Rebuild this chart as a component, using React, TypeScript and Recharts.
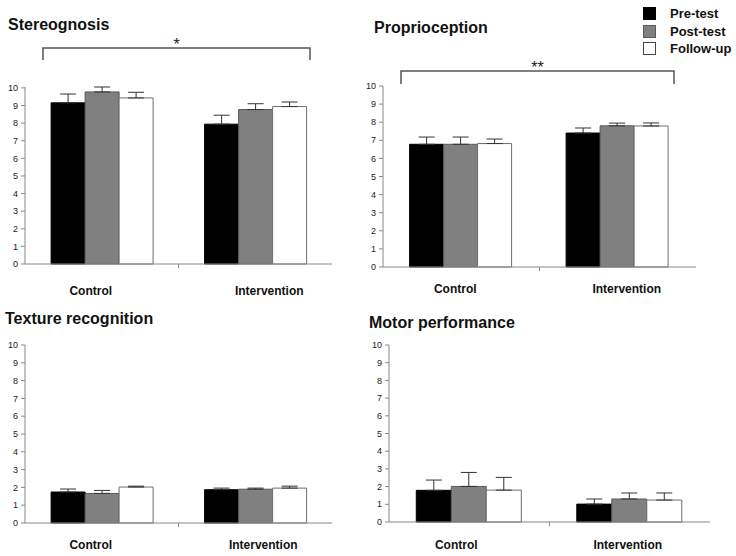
import { BarChart, Bar, XAxis, YAxis, ErrorBar } from "recharts";

const FONT = "Arial, 'Liberation Sans', Helvetica, sans-serif";

const categories = ["Control", "Intervention"];
const yTicks = [0, 1, 2, 3, 4, 5, 6, 7, 8, 9, 10];
const seriesNames = ["Pre-test", "Post-test", "Follow-up"];

// Stereognosis
const stereoPre = [9.15, 7.94];
const stereoPreErr = [0.5, 0.51];
const stereoPost = [9.77, 8.77];
const stereoPostErr = [0.28, 0.33];
const stereoFollow = [9.43, 8.94];
const stereoFollowErr = [0.32, 0.26];

// Proprioception
const proprioPre = [6.78, 7.4];
const proprioPreErr = [0.4, 0.28];
const proprioPost = [6.78, 7.8];
const proprioPostErr = [0.4, 0.15];
const proprioFollow = [6.82, 7.79];
const proprioFollowErr = [0.25, 0.17];

// Texture recognition
const texturePre = [1.74, 1.87];
const texturePreErr = [0.17, 0.09];
const texturePost = [1.66, 1.9];
const texturePostErr = [0.17, 0.06];
const textureFollow = [2.02, 1.96];
const textureFollowErr = [0.05, 0.11];

// Motor performance
const motorPre = [1.79, 1.01];
const motorPreErr = [0.58, 0.29];
const motorPost = [2.01, 1.3];
const motorPostErr = [0.79, 0.34];
const motorFollow = [1.8, 1.24];
const motorFollowErr = [0.72, 0.4];

function buildRows(
  pre: number[], preErr: number[],
  post: number[], postErr: number[],
  follow: number[], followErr: number[]
) {
  return categories.map((group, i) => ({
    group,
    pre: pre[i],
    preErr: [0, preErr[i]],
    post: post[i],
    postErr: [0, postErr[i]],
    follow: follow[i],
    followErr: [0, followErr[i]],
  }));
}

const barStyles = [
  { key: "pre", fill: "#000000", stroke: "#000000" },
  { key: "post", fill: "#808080", stroke: "#5a5a5a" },
  { key: "follow", fill: "#ffffff", stroke: "#6e6e6e" },
];

function CatTick(props: any) {
  const { x, y, payload, index, shift, dy } = props;
  const half = payload?.offset ?? 0;
  return (
    <g>
      {index === 0 && (
        <line x1={x + half} x2={x + half} y1={y} y2={y + 4} stroke="#888" />
      )}
      <text
        x={x + (shift?.[index] ?? 0)}
        y={y + dy}
        textAnchor="middle"
        fontFamily={FONT}
        fontWeight="bold"
        fontSize={12}
        fill="#111"
      >
        {payload.value}
      </text>
    </g>
  );
}

function LegendBox() {
  return (
    <div
      style={{
        position: "absolute",
        left: 643,
        top: 5,
        fontFamily: FONT,
        fontWeight: "bold",
        fontSize: 13,
        color: "#111",
      }}
    >
      {seriesNames.map((name, i) => (
        <div key={name} style={{ display: "flex", alignItems: "center", height: 17.5 }}>
          <span
            style={{
              display: "inline-block",
              width: 11,
              height: 11,
              background: barStyles[i].fill,
              border: `1px solid ${i === 2 ? "#444" : barStyles[i].stroke}`,
              marginRight: 14,
            }}
          />
          <span>{name}</span>
        </div>
      ))}
    </div>
  );
}

interface PanelProps {
  left: number;
  top: number;
  width: number;
  height: number;
  margin: { top: number; right: number; bottom: number; left: number };
  yWidth: number;
  rows: any[];
  title: string;
  titleX: number;
  titleY: number;
  labelShift: number[];
  labelDy: number;
  bracket?: { x1: number; x2: number; y: number; drop: number; mark: string; markY: number };
}

function Panel(p: PanelProps) {
  return (
    <div style={{ position: "absolute", left: p.left, top: p.top, width: p.width, height: p.height }}>
      <BarChart
        width={p.width}
        height={p.height}
        data={p.rows}
        margin={p.margin}
        barCategoryGap="17%"
        barGap={0}
      >
        <XAxis
          dataKey="group"
          stroke="#888"
          tickLine={false}
          tickSize={0}
          tickMargin={0}
          height={30}
          interval={0}
          tick={(t: any) => <CatTick {...t} shift={p.labelShift} dy={p.labelDy} />}
        />
        <YAxis
          domain={[0, 10]}
          ticks={yTicks}
          interval={0}
          width={p.yWidth}
          stroke="#888"
          tickSize={4}
          tickMargin={3}
          tick={{ fontSize: 9, fill: "#222", fontFamily: FONT }}
        />
        {barStyles.map((b) => (
          <Bar
            key={b.key}
            dataKey={b.key}
            fill={b.fill}
            stroke={b.stroke}
            strokeWidth={1}
            isAnimationActive={false}
          >
            <ErrorBar dataKey={b.key + "Err"} width={8} stroke="#333" strokeWidth={1} direction="y" />
          </Bar>
        ))}
      </BarChart>
      <svg
        width={p.width}
        height={p.height}
        style={{ position: "absolute", left: 0, top: 0, pointerEvents: "none" }}
      >
        <text x={p.titleX} y={p.titleY} fontFamily={FONT} fontWeight="bold" fontSize={16} fill="#111">
          {p.title}
        </text>
        {p.bracket && (
          <g>
            <path
              d={`M${p.bracket.x1},${p.bracket.y + p.bracket.drop} V${p.bracket.y} H${p.bracket.x2} V${p.bracket.y + p.bracket.drop}`}
              fill="none"
              stroke="#555"
              strokeWidth={1.5}
            />
            <text
              x={(p.bracket.x1 + p.bracket.x2) / 2}
              y={p.bracket.markY}
              textAnchor="middle"
              fontFamily={FONT}
              fontSize={16}
              fill="#222"
            >
              {p.bracket.mark}
            </text>
          </g>
        )}
      </svg>
    </div>
  );
}

export default function App() {
  return (
    <div style={{ position: "absolute", left: 0, top: 0, width: 736, height: 556, background: "#fff" }}>
      <Panel
        left={0}
        top={0}
        width={340}
        height={300}
        margin={{ top: 87, right: 8, left: 0, bottom: 6 }}
        yWidth={25}
        rows={buildRows(stereoPre, stereoPreErr, stereoPost, stereoPostErr, stereoFollow, stereoFollowErr)}
        title="Stereognosis"
        titleX={8}
        titleY={30}
        labelShift={[-11, 14]}
        labelDy={31}
        bracket={{ x1: 43, x2: 310, y: 48, drop: 12, mark: "*", markY: 50 }}
      />
      <Panel
        left={360}
        top={0}
        width={340}
        height={300}
        margin={{ top: 86, right: 4, left: 0, bottom: 3 }}
        yWidth={23}
        rows={buildRows(proprioPre, proprioPreErr, proprioPost, proprioPostErr, proprioFollow, proprioFollowErr)}
        title="Proprioception"
        titleX={14}
        titleY={33}
        labelShift={[-6, 9]}
        labelDy={26}
        bracket={{ x1: 41, x2: 314, y: 71, drop: 13, mark: "**", markY: 73 }}
      />
      <Panel
        left={0}
        top={300}
        width={340}
        height={256}
        margin={{ top: 45, right: 8, left: 0, bottom: 3 }}
        yWidth={25}
        rows={buildRows(texturePre, texturePreErr, texturePost, texturePostErr, textureFollow, textureFollowErr)}
        title="Texture recognition"
        titleX={5}
        titleY={24}
        labelShift={[-11, 8]}
        labelDy={26}
      />
      <Panel
        left={360}
        top={300}
        width={356}
        height={256}
        margin={{ top: 45, right: 6, left: 0, bottom: 4 }}
        yWidth={29}
        rows={buildRows(motorPre, motorPreErr, motorPost, motorPostErr, motorFollow, motorFollowErr)}
        title="Motor performance"
        titleX={9}
        titleY={28}
        labelShift={[-13, -2]}
        labelDy={27}
      />
      <LegendBox />
    </div>
  );
}
